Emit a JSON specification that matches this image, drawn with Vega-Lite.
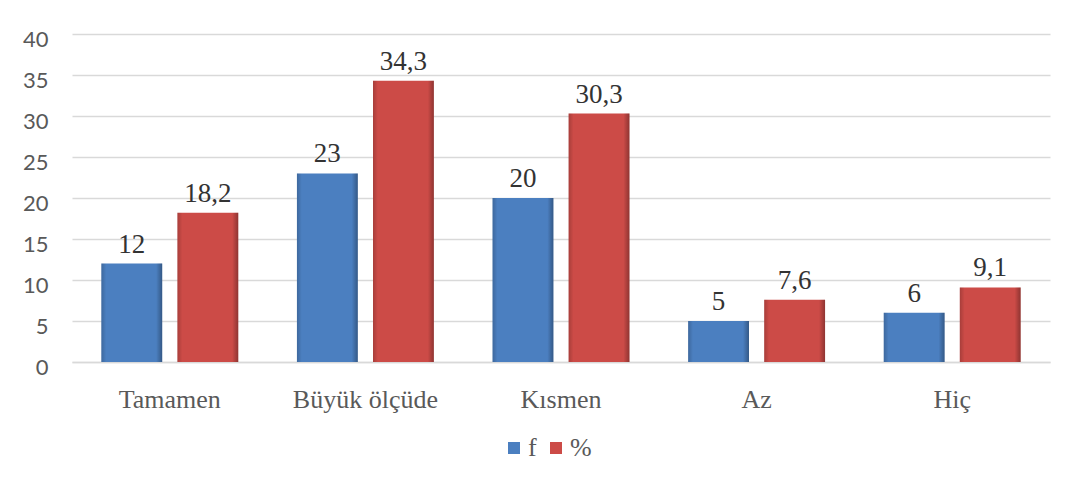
{
  "$schema": "https://vega.github.io/schema/vega-lite/v6.json",
  "width": 978,
  "height": 328,
  "autosize": {"type": "none"},
  "padding": {"left": 72, "top": 34, "right": 23, "bottom": 122},
  "background": "white",
  "config": {
    "view": {"stroke": null},
    "locale": {"number": {"decimal": ",", "thousands": ".", "grouping": [3], "currency": ["", " TL"]}}
  },
  "data": {
    "values": [
      {"cat": "Tamamen", "series": "f", "value": 12},
      {"cat": "Tamamen", "series": "%", "value": 18.2},
      {"cat": "Büyük ölçüde", "series": "f", "value": 23},
      {"cat": "Büyük ölçüde", "series": "%", "value": 34.3},
      {"cat": "Kısmen", "series": "f", "value": 20},
      {"cat": "Kısmen", "series": "%", "value": 30.3},
      {"cat": "Az", "series": "f", "value": 5},
      {"cat": "Az", "series": "%", "value": 7.6},
      {"cat": "Hiç", "series": "f", "value": 6},
      {"cat": "Hiç", "series": "%", "value": 9.1}
    ]
  },
  "encoding": {
    "x": {
      "field": "cat", "type": "nominal",
      "sort": ["Tamamen", "Büyük ölçüde", "Kısmen", "Az", "Hiç"],
      "scale": {"paddingInner": 0.3, "paddingOuter": 0.15},
      "axis": {
        "title": null, "labelAngle": 0, "ticks": false, "tickSize": 0,
        "domain": true, "domainColor": "#d9d9d9", "domainWidth": 1.5,
        "labelFont": "Liberation Serif", "labelFontSize": 26, "labelColor": "#595959",
        "labelPadding": 24
      }
    },
    "xOffset": {"field": "series", "type": "nominal", "sort": ["f", "%"], "scale": {"paddingInner": 0.2}},
    "y": {
      "field": "value", "type": "quantitative",
      "scale": {"domain": [0, 40], "nice": false},
      "axis": {
        "title": null, "values": [0, 5, 10, 15, 20, 25, 30, 35, 40],
        "domain": false, "ticks": false, "tickSize": 0,
        "grid": true, "gridColor": "#d9d9d9", "gridWidth": 1.5,
        "labelFont": "Lato", "labelFontSize": 22, "labelColor": "#595959",
        "labelPadding": 24, "labelOffset": 5
      }
    }
  },
  "layer": [
    {
      "mark": {"type": "bar"},
      "encoding": {
        "color": {
          "field": "series", "type": "nominal",
          "scale": {"domain": ["f", "%"], "range": ["#4b7fc0", "#cc4b47"]},
          "legend": {
            "title": null, "orient": "none", "legendX": 429, "legendY": 401,
            "direction": "horizontal", "symbolType": "square", "symbolSize": 144,
            "symbolStrokeWidth": 0,
            "labelFont": "Liberation Serif", "labelFontSize": 26, "labelColor": "#595959",
            "columnPadding": 6, "labelOffset": 1, "padding": 0
          }
        }
      }
    },
    {
      "mark": {
        "type": "bar",
        "fill": {
          "gradient": "linear", "x1": 0, "y1": 0, "x2": 1, "y2": 0,
          "stops": [
            {"offset": 0, "color": "rgba(0,0,0,0.18)"},
            {"offset": 0.08, "color": "rgba(0,0,0,0)"},
            {"offset": 0.9, "color": "rgba(0,0,0,0)"},
            {"offset": 1, "color": "rgba(0,0,0,0.3)"}
          ]
        }
      }
    },
    {
      "mark": {"type": "text", "baseline": "alphabetic", "dy": -11, "font": "Liberation Serif", "fontSize": 27, "color": "#333333"},
      "encoding": {
        "text": {"field": "value", "type": "quantitative", "format": ".1~f"}
      }
    }
  ]
}
